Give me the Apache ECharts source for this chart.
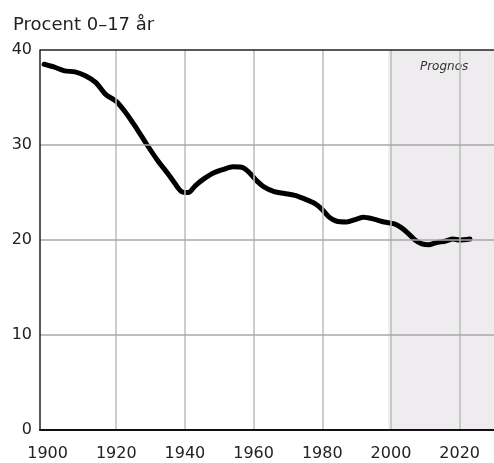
<!DOCTYPE html>
<html>
<head>
<meta charset="utf-8">
<script src="https://cdn.jsdelivr.net/npm/echarts@6/dist/echarts.min.js"></script>
<style>html,body{margin:0;padding:0;background:#fff}#c{width:494px;height:463px}</style>
</head>
<body>
<div id="c"></div>
<script>
const years = [1899,1902,1905,1908,1911,1914,1917,1920,1923,1926,1929,1932,1935,1937,1939,1941,1943,1945,1948,1951,1954,1957,1959,1961,1963,1966,1969,1972,1975,1978,1980,1982,1984,1987,1990,1992,1995,1998,2001,2003,2005,2007,2009,2011,2013,2016,2018,2020,2023];
const share = [38.5,38.2,37.8,37.7,37.3,36.6,35.3,34.6,33.3,31.7,30.0,28.4,27.0,26.0,25.1,25.0,25.7,26.3,27.0,27.4,27.7,27.6,27.0,26.2,25.6,25.1,24.9,24.7,24.3,23.8,23.2,22.4,22.0,21.9,22.2,22.4,22.2,21.9,21.7,21.3,20.7,20.0,19.6,19.5,19.7,19.9,20.1,20.0,20.1];
const xTickLabels = [1900,1920,1940,1960,1980,2000,2020];
const xGridYears = [1920,1940,1960,1980,2000,2020];
const yGridValues = [10,20,30];
const forecastStart = 1999.2;
const forecastEnd = 2030;
const titleText = 'Procent 0–17 år';
const forecastLabel = 'Prognos';

const font = 'DejaVu Sans';
const chart = echarts.init(document.getElementById('c'), null, {renderer:'canvas'});
const gridLines = xGridYears.map(y => ({xAxis: y, lineStyle:{color:'#bdbdbd', width:1.5}}))
  .concat(yGridValues.map(v => ({yAxis: v, lineStyle:{color:'#a8a8a8', width:1.5}})))
  .concat([{yAxis: 40, lineStyle:{color:'#222', width:1.5}}]);

chart.setOption({
  animation: false,
  title: {
    text: titleText, left: 8, top: 11,
    textStyle: {fontFamily: font, fontSize: 18, fontWeight: 'normal', color: '#222'}
  },
  grid: {left: 40, right: -2, top: 50, bottom: 33},
  xAxis: {
    type: 'value', min: 1897.8, max: 2030, z: 10,
    axisLine: {show: true, lineStyle: {color: '#111', width: 2}},
    axisTick: {show: false},
    splitLine: {show: false},
    axisLabel: {customValues: xTickLabels, formatter: v => String(Math.round(v)),
      fontFamily: font, fontSize: 16, color: '#222', margin: 16}
  },
  yAxis: {
    type: 'value', min: 0, max: 40, interval: 10, z: 10,
    axisLine: {show: true, lineStyle: {color: '#222', width: 1.5}},
    axisTick: {show: false},
    splitLine: {show: false},
    axisLabel: {fontFamily: font, fontSize: 16, color: '#222', margin: 8, padding: [5, 0, 0, 0]}
  },
  series: [
    {
      type: 'line', data: [], z: 1, silent: true,
      markArea: {
        silent: true,
        itemStyle: {color: '#eeecee'},
        label: {show: true, position: 'insideTop', distance: 11, offset: [3, 0],
          fontFamily: font, fontSize: 12, fontStyle: 'italic', color: '#333'},
        data: [[{xAxis: forecastStart, yAxis: 0, name: forecastLabel}, {xAxis: forecastEnd, yAxis: 40}]]
      }
    },
    {
      type: 'line', data: [], z: 2, silent: true,
      markLine: {silent: true, symbol: 'none', label: {show: false}, animation: false,
        lineStyle: {type: 'solid'}, data: gridLines}
    },
    {
      type: 'line', z: 3, smooth: 0.3, showSymbol: false,
      lineStyle: {color: '#000', width: 5, cap: 'round', join: 'round'},
      data: years.map((y, i) => [y, share[i]])
    }
  ]
});
</script>
</body>
</html>
